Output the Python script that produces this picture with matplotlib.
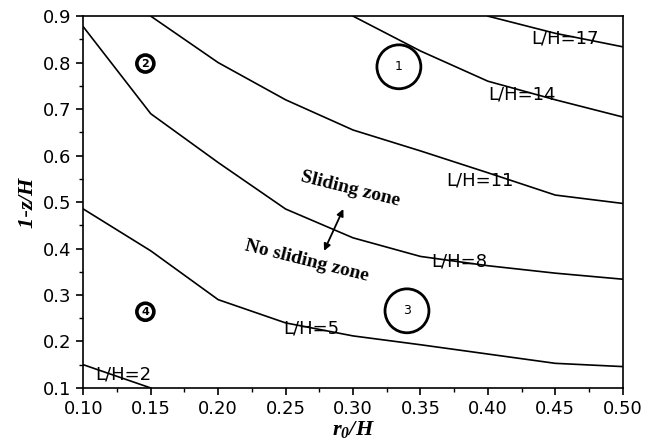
#!/usr/bin/env python3
"""Sliding / no-sliding zone curves, 1-z/H against r0/H."""
import matplotlib.pyplot as plt
import numpy as np

plt.rcParams.update({
    "font.family": "DejaVu Sans",
    "mathtext.fontset": "custom",
    "mathtext.rm": "Liberation Serif:bold:italic",
    "mathtext.it": "Liberation Serif:bold:italic",
    "mathtext.bf": "Liberation Serif:bold:italic",
})

# curves: (r0/H, 1-z/H)
r_lh2 = [0.10, 0.15]
z_lh2 = [0.15, 0.10]
r_lh5 = [0.10, 0.15, 0.20, 0.25, 0.30, 0.35, 0.40, 0.45, 0.50]
z_lh5 = [0.485, 0.395, 0.29, 0.24, 0.212, 0.193, 0.173, 0.153, 0.146]
r_lh8 = [0.10, 0.15, 0.20, 0.25, 0.30, 0.35, 0.40, 0.45, 0.50]
z_lh8 = [0.877, 0.69, 0.585, 0.485, 0.423, 0.383, 0.363, 0.347, 0.334]
r_lh11 = [0.15, 0.20, 0.25, 0.30, 0.35, 0.40, 0.45, 0.50]
z_lh11 = [0.90, 0.80, 0.72, 0.655, 0.61, 0.563, 0.515, 0.497]
r_lh14 = [0.30, 0.35, 0.40, 0.45, 0.50]
z_lh14 = [0.90, 0.825, 0.76, 0.72, 0.683]
r_lh17 = [0.40, 0.45, 0.50]
z_lh17 = [0.90, 0.863, 0.834]

curve_labels = ["L/H=2", "L/H=5", "L/H=8", "L/H=11", "L/H=14", "L/H=17"]
label_pos = [(0.130, 0.128), (0.269, 0.228), (0.379, 0.372),
             (0.394, 0.547), (0.425, 0.732), (0.457, 0.852)]

zone_numbers = ["1", "2", "3", "4"]
zone_pos = [(0.334, 0.791), (0.146, 0.798), (0.340, 0.266), (0.146, 0.264)]

fig = plt.figure(figsize=(6.46, 4.48), dpi=100)
ax = fig.add_axes([0.129, 0.134, 0.835, 0.830])

curves = [(r_lh2, z_lh2), (r_lh5, z_lh5), (r_lh8, z_lh8),
          (r_lh11, z_lh11), (r_lh14, z_lh14), (r_lh17, z_lh17)]
for (r, z) in curves:
    ax.plot(r, z, color="black", lw=1.2, clip_on=True)

for lab, (x, y) in zip(curve_labels, label_pos):
    ax.text(x, y, lab, fontsize=13, ha="center", va="center")

# zone markers: big rings for 1 and 3, small thick rings for 2 and 4
for num, (x, y) in zip(zone_numbers, zone_pos):
    if num in ("1", "3"):
        ax.scatter([x], [y], s=1000, facecolors="none", edgecolors="black",
                   linewidths=2.0, zorder=3)
        ax.text(x, y, num, fontsize=9, ha="center", va="center")
    else:
        ax.scatter([x], [y], s=150, facecolors="none", edgecolors="black",
                   linewidths=2.6, zorder=3)
        ax.text(x, y, num, fontsize=8, fontweight="bold",
                ha="center", va="center")

ax.annotate("", xy=(0.2785, 0.395), xytext=(0.2928, 0.485),
            arrowprops=dict(arrowstyle="<|-|>", color="black", lw=1.3,
                            mutation_scale=10, shrinkA=0, shrinkB=0))
ax.text(0.2978, 0.529, "Sliding zone", fontsize=14, fontweight="bold",
        family="Liberation Serif", rotation=-14, ha="center", va="center")
ax.text(0.2657, 0.372, "No sliding zone", fontsize=14, fontweight="bold",
        family="Liberation Serif", rotation=-14, ha="center", va="center")

ax.set_xlim(0.10, 0.50)
ax.set_ylim(0.10, 0.90)
ax.set_xticks(np.arange(0.10, 0.501, 0.05))
ax.set_yticks(np.arange(0.1, 0.901, 0.1))
ax.set_xticks(np.arange(0.125, 0.5, 0.05), minor=True)
ax.set_yticks(np.arange(0.15, 0.9, 0.1), minor=True)
ax.set_xticklabels([f"{v:.2f}" for v in np.arange(0.10, 0.501, 0.05)])
ax.set_yticklabels([f"{v:.1f}" for v in np.arange(0.1, 0.901, 0.1)])
ax.tick_params(which="major", direction="out", length=5, width=1.2,
               labelsize=13)
ax.tick_params(which="minor", direction="out", length=3, width=1.0)
for s in ax.spines.values():
    s.set_linewidth(1.2)

ax.set_xlabel(r"$r_0/H$", fontsize=16, labelpad=1)
ax.set_ylabel(r"$1$-$z/H$", fontsize=16, labelpad=4)

fig.savefig("out.png", dpi=100)
